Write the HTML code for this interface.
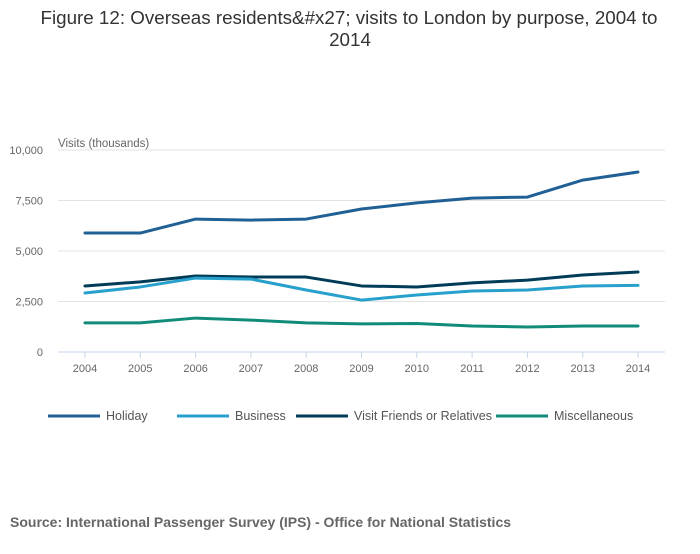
<!DOCTYPE html>
<html><head><meta charset="utf-8"><style>
body{margin:0;background:#fff;font-family:"Liberation Sans",sans-serif;}
svg text{font-family:"Liberation Sans",sans-serif;}
</style></head><body>
<svg width="700" height="549">
<text x="349" y="24" text-anchor="middle" font-size="18.8" fill="#333">Figure 12: Overseas residents&amp;#x27; visits to London by purpose, 2004 to</text>
<text x="350" y="46" text-anchor="middle" font-size="18.8" fill="#333">2014</text>
<text x="58" y="147" font-size="11.5" fill="#666">Visits (thousands)</text>
<g id="grid"></g><g id="xaxis"></g><g id="series"></g><g id="legend"></g>
<text x="10" y="527" font-size="14" font-weight="bold" fill="#666">Source: International Passenger Survey (IPS) - Office for National Statistics</text>
</svg>
<script>
const years=[2004,2005,2006,2007,2008,2009,2010,2011,2012,2013,2014];
const holiday=[5890,5890,6580,6530,6580,7080,7380,7620,7670,8510,8910];
const business=[2920,3220,3660,3610,3070,2570,2820,3020,3070,3270,3300];
const vfr=[3270,3470,3760,3710,3710,3270,3220,3420,3560,3810,3960];
const misc=[1440,1440,1680,1580,1440,1390,1410,1290,1240,1290,1290];
const yTicks=[0,2500,5000,7500,10000];
const yTickLabels=["0","2,500","5,000","7,500","10,000"];
const seriesNames=["Holiday","Business","Visit Friends or Relatives","Miscellaneous"];
const ns="http://www.w3.org/2000/svg";
const X=i=>85+i*55.3, Y=v=>352-v*0.0202;
function mk(t,a,p){const e=document.createElementNS(ns,t);for(const k in a)e.setAttribute(k,a[k]);p.appendChild(e);return e;}
const g=document.getElementById('grid');
yTicks.forEach((v,i)=>{
 const l=mk('line',{x1:58,x2:665,y1:Y(v),y2:Y(v),stroke:v?'#e3e3e3':'#c8d6e8','stroke-width':1},g);
 
 
 const t=mk('text',{x:43,y:Y(v)+4,'text-anchor':'end','font-size':11,fill:'#666'},g);t.textContent=yTickLabels[i];
 
 
});
const xa=document.getElementById('xaxis');
years.forEach((y,i)=>{
 const tk=mk('line',{x1:X(i),x2:X(i),y1:352,y2:358,stroke:'#c8d6e8'},xa);
 
 
 const t=mk('text',{x:X(i),y:372,'text-anchor':'middle','font-size':11,fill:'#666'},xa);t.textContent=y;
 
 
});
const colors=['#206095','#27a0cc','#003c57','#118c7b'];
const data=[holiday,business,vfr,misc];
const s=document.getElementById('series');
[2,1,0,3].forEach(k=>{
 const p=mk('polyline',{points:data[k].map((v,i)=>X(i)+','+Y(v)).join(' '),fill:'none',stroke:colors[k],'stroke-width':3,'stroke-linejoin':'round','stroke-linecap':'round'},s);
 
 
});
const lg=document.getElementById('legend');
const lx=[48,177,296,496];
seriesNames.forEach((n,k)=>{
 const gg=mk('g',{},lg);
 
 
 mk('line',{x1:lx[k],x2:lx[k]+52,y1:416,y2:416,stroke:colors[k],'stroke-width':3},gg);
 const t=mk('text',{x:lx[k]+58,y:420,'font-size':12.5,fill:'#555'},gg);t.textContent=n;
});
</script>
</body></html>
